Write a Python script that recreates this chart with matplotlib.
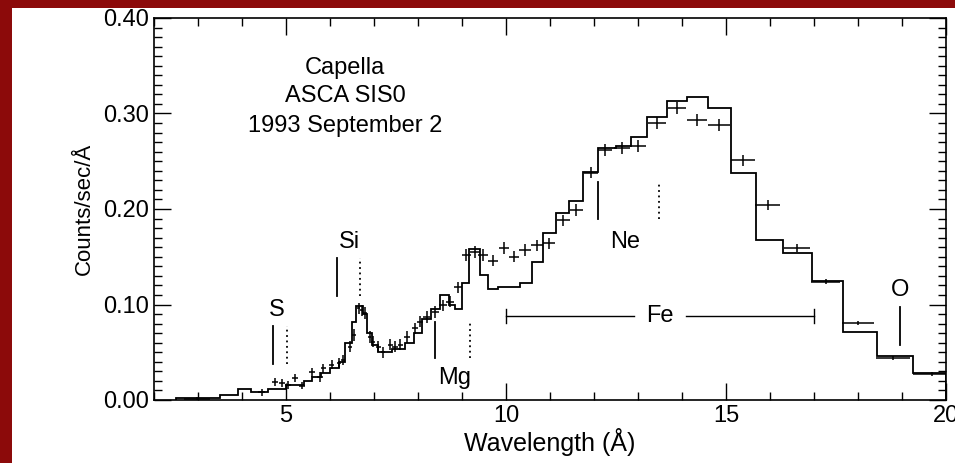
import matplotlib
matplotlib.use("Agg")
import matplotlib.pyplot as plt
import numpy as np
from matplotlib.ticker import MultipleLocator, FormatStrFormatter
from matplotlib.patches import Rectangle

plt.rcParams['font.family'] = ['Liberation Sans', 'DejaVu Sans']

model_edges = [2.5, 3.5, 3.9, 4.2, 4.6, 5.0, 5.4, 5.6, 5.8, 6.0, 6.2, 6.35, 6.5, 6.6, 6.75, 6.85,
               6.95, 7.1, 7.4, 7.7, 7.9, 8.1, 8.3, 8.5, 8.7, 8.85, 9.0, 9.15, 9.4, 9.6, 9.82,
               10.32, 10.6, 10.85, 11.14, 11.43, 11.75, 12.09, 12.5, 12.84, 13.2, 13.66, 14.11,
               14.59, 15.11, 15.68, 16.3, 16.95, 17.66, 18.43, 19.25, 20.0]
model_vals = [0.002, 0.005, 0.012, 0.008, 0.011, 0.016, 0.020, 0.024, 0.028, 0.034, 0.040, 0.060,
              0.082, 0.098, 0.090, 0.070, 0.058, 0.050, 0.053, 0.060, 0.070, 0.085, 0.095, 0.110,
              0.100, 0.095, 0.122, 0.158, 0.131, 0.116, 0.118, 0.122, 0.144, 0.175, 0.196, 0.208,
              0.239, 0.264, 0.266, 0.275, 0.296, 0.313, 0.317, 0.306, 0.238, 0.168, 0.154, 0.125,
              0.071, 0.046, 0.028]

data_x = [2.98, 4.45, 4.75, 4.9, 5.05, 5.2, 5.36, 5.6, 5.77, 5.85, 6.04, 6.2, 6.3, 6.45, 6.55,
          6.65, 6.72, 6.8, 6.9, 6.98, 7.1, 7.2, 7.37, 7.48, 7.6, 7.75, 7.93, 8.05, 8.2, 8.39,
          8.57, 8.73, 8.91, 9.1, 9.3, 9.48, 9.7, 9.95, 10.18, 10.43, 10.7, 10.98, 11.3, 11.6,
          11.93, 12.25, 12.64, 13.0, 13.43, 13.89, 14.34, 14.84, 15.39, 15.95, 16.61, 17.27,
          18.0, 18.8, 19.68]
data_y = [0.001, 0.008, 0.019, 0.018, 0.016, 0.023, 0.015, 0.029, 0.024, 0.033, 0.037, 0.039,
          0.042, 0.056, 0.068, 0.096, 0.094, 0.091, 0.066, 0.061, 0.056, 0.050, 0.058, 0.056,
          0.058, 0.066, 0.075, 0.082, 0.087, 0.092, 0.099, 0.103, 0.118, 0.152, 0.155, 0.152,
          0.146, 0.159, 0.150, 0.157, 0.162, 0.164, 0.188, 0.199, 0.238, 0.262, 0.264, 0.266,
          0.290, 0.306, 0.293, 0.288, 0.251, 0.204, 0.159, 0.124, 0.081, 0.044, 0.027]
data_xerr = [0.3, 0.08, 0.07, 0.07, 0.07, 0.07, 0.07, 0.07, 0.06, 0.06, 0.06, 0.05, 0.05, 0.04,
             0.04, 0.04, 0.04, 0.04, 0.04, 0.05, 0.05, 0.05, 0.06, 0.06, 0.06, 0.07, 0.07, 0.07,
             0.08, 0.08, 0.09, 0.09, 0.1, 0.1, 0.11, 0.11, 0.11, 0.12, 0.12, 0.13, 0.13, 0.14,
             0.15, 0.15, 0.16, 0.17, 0.18, 0.19, 0.2, 0.21, 0.22, 0.24, 0.27, 0.28, 0.3, 0.33,
             0.36, 0.38, 0.42]
data_yerr = [0.002, 0.004, 0.004, 0.004, 0.004, 0.004, 0.004, 0.005, 0.005, 0.005, 0.005, 0.005,
             0.005, 0.006, 0.006, 0.006, 0.006, 0.006, 0.006, 0.006, 0.006, 0.006, 0.006, 0.006,
             0.006, 0.006, 0.006, 0.006, 0.006, 0.006, 0.006, 0.006, 0.006, 0.006, 0.006, 0.006,
             0.006, 0.006, 0.006, 0.006, 0.006, 0.006, 0.006, 0.006, 0.006, 0.006, 0.006, 0.006,
             0.006, 0.006, 0.006, 0.006, 0.006, 0.005, 0.004, 0.003, 0.002, 0.002, 0.002]

# line labels: (name, solid x, dotted x or None, y0, y1, text x, text y)
lines = [("S", 4.7, 5.02, 0.038, 0.077, 4.8, 0.094),
         ("Si", 6.16, 6.68, 0.109, 0.149, 6.45, 0.165),
         ("Mg", 8.39, 9.18, 0.044, 0.082, 8.84, 0.023),
         ("Ne", 12.09, 13.48, 0.190, 0.228, 12.7, 0.165),
         ("O", 18.95, None, 0.058, 0.097, 18.95, 0.115)]

fig = plt.figure(figsize=(9.55, 4.63), dpi=100)
fig.patch.set_facecolor('#8c0a0a')
bg = Rectangle((12/955, 0), 1, 1 - 8/463, transform=fig.transFigure,
               facecolor='white', edgecolor='none', zorder=-10)
fig.patches.append(bg)
ax = fig.add_axes([154/955, 1 - 400/463, 792/955, 382/463])
ax.set_facecolor('white')

ax.stairs(model_vals, model_edges, color='black', lw=1.3)
ax.errorbar(data_x, data_y, xerr=data_xerr, yerr=data_yerr, fmt='none', ecolor='black',
            elinewidth=1.1, capsize=0)

fs = 17
for name, xs, xd, y0, y1, tx, ty in lines:
    ax.plot([xs, xs], [y0, y1], color='black', lw=1.3)
    if xd is not None:
        ax.plot([xd, xd], [y0, y1], color='black', lw=1.3, ls=(0, (1, 2)))
    ax.text(tx, ty, name, ha='center', va='center', fontsize=fs)

ax.plot([10, 12.9], [0.088, 0.088], color='black', lw=1)
ax.plot([14.1, 17], [0.088, 0.088], color='black', lw=1)
ax.plot([10, 10], [0.081, 0.095], color='black', lw=1)
ax.plot([17, 17], [0.081, 0.095], color='black', lw=1)
ax.text(13.5, 0.088, "Fe", ha='center', va='center', fontsize=fs)

ax.text(6.34, 0.348, "Capella", ha='center', va='center', fontsize=fs)
ax.text(6.34, 0.318, "ASCA SIS0", ha='center', va='center', fontsize=fs)
ax.text(6.34, 0.287, "1993 September 2", ha='center', va='center', fontsize=fs)

ax.set_xlim(2.0, 20.0)
ax.set_ylim(0.0, 0.40)
ax.xaxis.set_major_locator(MultipleLocator(5))
ax.xaxis.set_minor_locator(MultipleLocator(1))
ax.yaxis.set_major_locator(MultipleLocator(0.1))
ax.yaxis.set_minor_locator(MultipleLocator(0.01))
ax.yaxis.set_major_formatter(FormatStrFormatter('%.2f'))
ax.tick_params(which='both', direction='in', top=True, right=True, labelsize=17)
ax.tick_params(which='major', length=12, width=1)
ax.tick_params(which='minor', length=6, width=1)
for s in ax.spines.values():
    s.set_linewidth(1.2)
ax.set_xlabel("Wavelength (Å)", fontsize=18, labelpad=1)
ax.set_ylabel("Counts/sec/Å", fontsize=16, fontstretch='condensed', labelpad=6)

fig.savefig("out.png", dpi=100, facecolor=fig.get_facecolor())
